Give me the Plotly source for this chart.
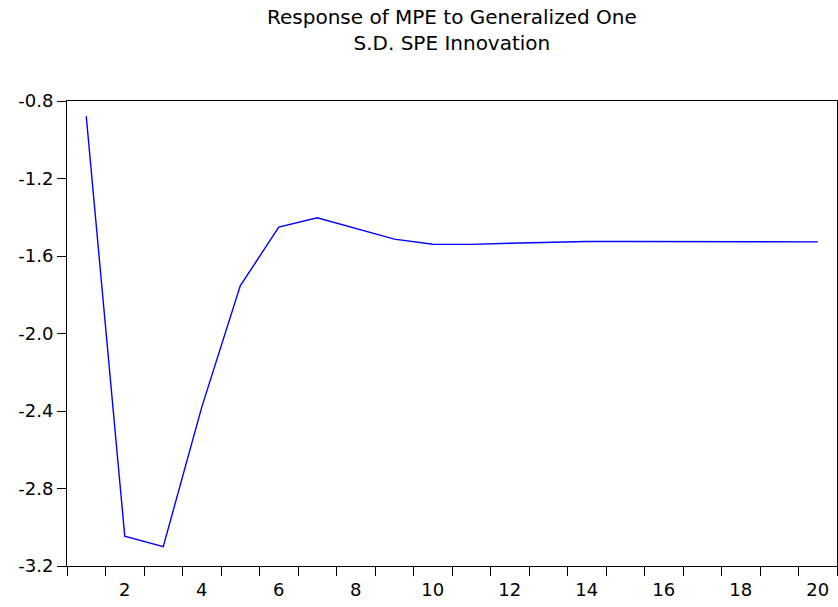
import plotly.graph_objects as go

periods = list(range(1, 21))
response = [-0.879, -3.046, -3.100, -2.380, -1.754, -1.451, -1.403, -1.458, -1.513, -1.539,
            -1.540, -1.534, -1.528, -1.525, -1.525, -1.525, -1.526, -1.527, -1.527, -1.527]

y_ticks = [-3.2, -2.8, -2.4, -2.0, -1.6, -1.2, -0.8]
y_tick_labels = ["-3.2", "-2.8", "-2.4", "-2.0", "-1.6", "-1.2", "-0.8"]
x_label_vals = [2, 4, 6, 8, 10, 12, 14, 16, 18, 20]
x_label_text = ["2", "4", "6", "8", "10", "12", "14", "16", "18", "20"]
x_boundaries = [p - 0.5 for p in periods] + [periods[-1] + 0.5]
title_text = "Response of MPE to Generalized One<br>S.D. SPE Innovation"

font_family = "DejaVu Sans, Liberation Sans, Arial, sans-serif"

fig = go.Figure()
fig.add_trace(go.Scatter(x=periods, y=response, mode="lines",
                         line=dict(color="#0000FF", width=1.4), showlegend=False))

fig.update_layout(
    width=838, height=607,
    paper_bgcolor="white", plot_bgcolor="white",
    margin=dict(l=67, r=1, t=101, b=41),
    font=dict(family=font_family, size=18, color="black"),
    annotations=[dict(text=title_text, showarrow=False,
                      xref="paper", x=0.5, xanchor="center",
                      yref="paper", y=1, yanchor="bottom", yshift=44,
                      font=dict(family=font_family, size=20, color="black"))],
)
fig.update_xaxes(range=[0.5, 20.5], showgrid=False, zeroline=False,
                 showline=True, linecolor="black", linewidth=1, mirror=True,
                 tickmode="array", tickvals=x_label_vals, ticktext=x_label_text,
                 ticks="outside", ticklen=7, tickcolor="rgba(0,0,0,0)",
                 minor=dict(tickmode="array", tickvals=x_boundaries, ticks="outside",
                            ticklen=9, tickcolor="black", tickwidth=1),
                 tickfont=dict(size=18))
fig.update_yaxes(range=[-3.2, -0.8], showgrid=False, zeroline=False,
                 showline=True, linecolor="black", linewidth=1, mirror=True,
                 tickmode="array", tickvals=y_ticks, ticktext=y_tick_labels,
                 ticks="outside", ticklen=9, tickcolor="black",
                 tickfont=dict(size=18))

# remove the default 8px page margin so the 838x607 figure fills the window
fig.write_html("out.html",
               config={"displayModeBar": False},
               post_script="document.body.style.margin='0';document.body.style.overflow='hidden';")
